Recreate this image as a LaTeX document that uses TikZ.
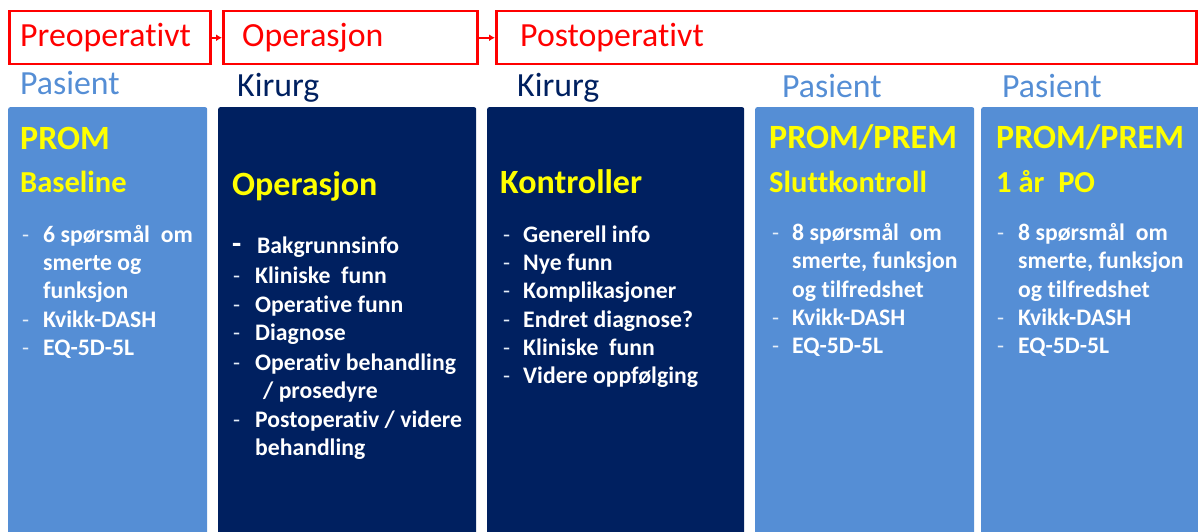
\documentclass[tikz,border=0pt]{standalone}
\usepackage{fontspec}
\setmainfont{Carlito}[Ligatures=NoCommon]
\usetikzlibrary{arrows.meta}
\definecolor{lblue}{RGB}{85,142,213}
\definecolor{navy}{RGB}{0,32,96}
\definecolor{hred}{RGB}{255,0,0}
\definecolor{ttl}{RGB}{255,255,0}
\tikzset{
 phase/.style={draw=hred, line width=2.5pt, anchor=north west, inner sep=0pt},
 phasetxt/.style={anchor=base west, inner sep=0pt, text=hred, font=\fontsize{33.8}{40}\selectfont},
 role/.style={anchor=base west, inner sep=0pt, font=\fontsize{33.8}{40}\selectfont},
 col/.style={rounded corners=2pt, anchor=north west, inner sep=0pt},
 ttlA/.style={anchor=base west, inner sep=0pt, text=ttl, font=\bfseries\fontsize{34}{40}\selectfont},
 ttlB/.style={anchor=base west, inner sep=0pt, text=ttl, font=\bfseries\fontsize{30.5}{36}\selectfont},
 item/.style={anchor=base west, inner sep=0pt, text=white, font=\bfseries\fontsize{23.7}{28}\selectfont},
 bul/.style={anchor=base west, inner sep=0pt, text=white!85!lblue, font=\fontsize{23}{28}\selectfont},
 bigbul/.style={anchor=base west, inner sep=0pt, text=white, font=\bfseries\fontsize{30}{34}\selectfont},
 flow/.style={hred, line width=2pt, -{Latex[length=6pt,width=7pt]}}
}
\begin{document}
\begin{tikzpicture}[x=1pt,y=-1pt]
\useasboundingbox (0,0) rectangle (1198,532);
% phase boxes
\node[phase, minimum width=201pt, minimum height=53pt] (pre) at (8,10) {};
\node[phase, minimum width=254pt, minimum height=53pt] (op) at (222,10) {};
\node[phase, minimum width=700pt, minimum height=53pt] (post) at (495,10) {};
\node[phasetxt] (preT) at (20,47) {Preoperativt};
\node[phasetxt] (opT) at (242,47) {Operasjon};
\node[phasetxt] (postT) at (520,47) {Postoperativt};
\draw[flow] (pre.east) -- (op.west);
\draw[flow] (op.east) -- (post.west);
% roles
\node[role, text=lblue] (r1) at (20,95) {Pasient};
\node[role, text=navy] (r2) at (237,97) {Kirurg};
\node[role, text=navy] (r3) at (517,97) {Kirurg};
\node[role, text=lblue] (r4) at (782,98) {Pasient};
\node[role, text=lblue] (r5) at (1002,98) {Pasient};
% columns
\node[col, fill=lblue, minimum width=199pt, minimum height=440pt] (c1) at (8,107) {};
\node[col, fill=navy, minimum width=258pt, minimum height=440pt] (c2) at (218,107) {};
\node[col, fill=navy, minimum width=257pt, minimum height=440pt] (c3) at (487,107) {};
\node[col, fill=lblue, minimum width=219pt, minimum height=440pt] (c4) at (755,107) {};
\node[col, fill=lblue, minimum width=230pt, minimum height=440pt] (c5) at (981,107) {};
% column 1
\node[ttlA] (t1a) at (20,149) {PROM};
\node[ttlB] (t1b) at (20,192) {Baseline};
\node[bul] (b1a) at (22,242) {-};
\node[item] (i1a) at (43,242) {6 spørsmål~ om};
\node[item] (i1b) at (43,270) {smerte og};
\node[item] (i1c) at (43,298) {funksjon};
\node[bul] (b1d) at (22,327) {-};
\node[item] (i1d) at (43,327) {Kvikk-DASH};
\node[bul] (b1e) at (22,355) {-};
\node[item] (i1e) at (43,355) {EQ-5D-5L};
% column 2
\node[ttlA] (t2a) at (232,195) {Operasjon};
\node[bigbul] (b2a) at (232,253) {-};
\node[item] (i2a) at (257,253) {Bakgrunnsinfo};
\node[bul] (b2b) at (233,283) {-};
\node[item] (i2b) at (255,283) {Kliniske~ funn};
\node[bul] (b2c) at (233,312) {-};
\node[item] (i2c) at (255,312) {Operative funn};
\node[bul] (b2d) at (233,340) {-};
\node[item] (i2d) at (255,340) {Diagnose};
\node[bul] (b2e) at (233,370) {-};
\node[item] (i2e) at (255,370) {Operativ behandling};
\node[item] (i2f) at (263,398) {/ prosedyre};
\node[bul] (b2g) at (233,427) {-};
\node[item] (i2g) at (255,427) {Postoperativ / videre};
\node[item] (i2h) at (255,455) {behandling};
% column 3
\node[ttlA] (t3a) at (500,193) {Kontroller};
\node[bul] (b3a) at (503,242) {-};
\node[item] (i3a) at (523,242) {Generell info};
\node[bul] (b3b) at (503,270) {-};
\node[item] (i3b) at (523,270) {Nye funn};
\node[bul] (b3c) at (503,298) {-};
\node[item] (i3c) at (523,298) {Komplikasjoner};
\node[bul] (b3d) at (503,327) {-};
\node[item] (i3d) at (523,327) {Endret diagnose?};
\node[bul] (b3e) at (503,355) {-};
\node[item] (i3e) at (523,355) {Kliniske~ funn};
\node[bul] (b3f) at (503,383) {-};
\node[item] (i3f) at (523,383) {Videre oppfølging};
% column 4
\node[ttlA] (t4a) at (769,148) {PROM/PREM};
\node[ttlB] (t4b) at (769,192) {Sluttkontroll};
\node[bul] (b4a) at (772,240) {-};
\node[item] (i4a) at (792,240) {8 spørsmål~ om};
\node[item] (i4b) at (792,268) {smerte, funksjon};
\node[item] (i4c) at (792,297) {og tilfredshet};
\node[bul] (b4d) at (772,325) {-};
\node[item] (i4d) at (792,325) {Kvikk-DASH};
\node[bul] (b4e) at (772,353) {-};
\node[item] (i4e) at (792,353) {EQ-5D-5L};
% column 5
\node[ttlA] (t5a) at (996,148) {PROM/PREM};
\node[ttlB] (t5b) at (996,192) {1 år~ PO};
\node[bul] (b5a) at (997,240) {-};
\node[item] (i5a) at (1018,240) {8 spørsmål~ om};
\node[item] (i5b) at (1018,268) {smerte, funksjon};
\node[item] (i5c) at (1018,297) {og tilfredshet};
\node[bul] (b5d) at (997,325) {-};
\node[item] (i5d) at (1018,325) {Kvikk-DASH};
\node[bul] (b5e) at (997,353) {-};
\node[item] (i5e) at (1018,353) {EQ-5D-5L};
\end{tikzpicture}
\end{document}
